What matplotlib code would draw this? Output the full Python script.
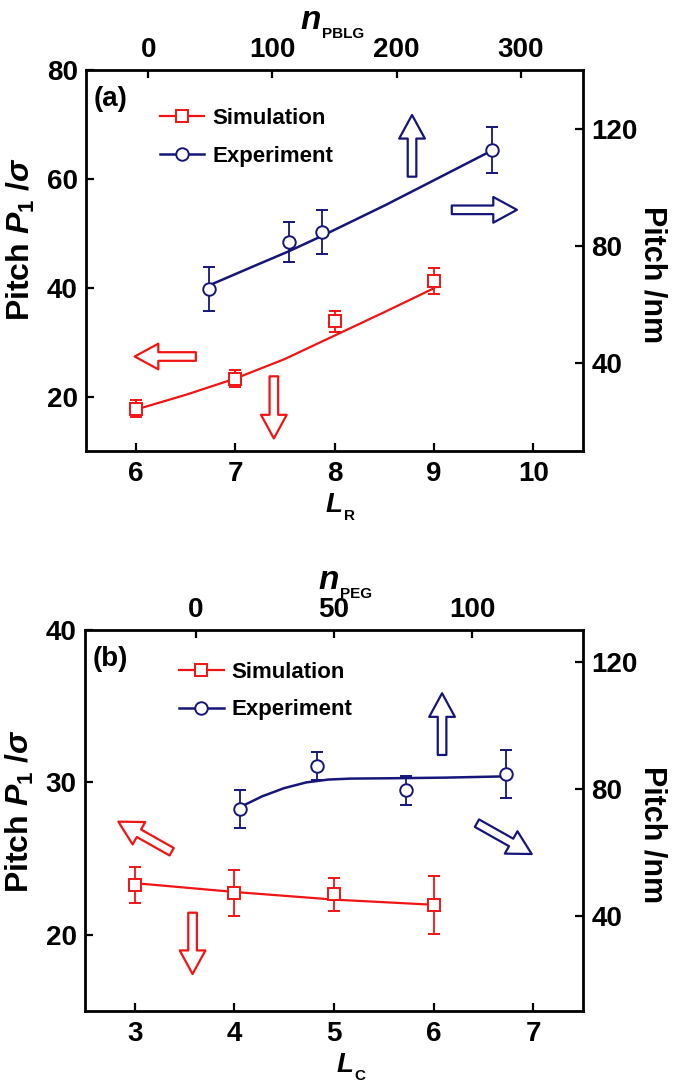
import matplotlib
matplotlib.use("Agg")
import matplotlib.pyplot as plt
from matplotlib.lines import Line2D

plt.rcParams['font.family'] = ['Liberation Sans', 'DejaVu Sans']
plt.rcParams['font.weight'] = 'bold'
plt.rcParams['mathtext.fontset'] = 'custom'
plt.rcParams['mathtext.rm'] = 'Liberation Sans:bold'
plt.rcParams['mathtext.bf'] = 'Liberation Sans:bold'
plt.rcParams['mathtext.it'] = 'Liberation Sans:italic:bold'

RED = '#f01414'
BLUE = '#16167a'

# ---------------- data: panel (a) ----------------
sim_a_x = [6, 7, 8, 9]
sim_a_y = [17.8, 23.3, 33.8, 41.3]
sim_a_err = [1.6, 1.5, 1.9, 2.4]
sim_a_fit_x = [6, 6.5, 7, 7.5, 8, 8.5, 9]
sim_a_fit_y = [17.6, 20.3, 23.3, 26.9, 31.2, 35.5, 39.9]
exp_a_n = [49, 113, 140, 277]
exp_a_nm = [65.3, 81.2, 84.7, 112.6]
exp_a_err = [7.6, 6.8, 7.5, 7.9]
exp_a_fit_n = [49, 88, 113, 140, 191, 226, 277]
exp_a_fit_nm = [66.5, 73.6, 78.1, 83.4, 93.9, 101.5, 112.6]
a_xticks = [6, 7, 8, 9, 10]
a_yticks = [20, 40, 60, 80]
a_topticks = [0, 100, 200, 300]
a_rightticks = [40, 80, 120]

# ---------------- data: panel (b) ----------------
sim_b_x = [3, 4, 5, 6]
sim_b_y = [23.28, 22.76, 22.65, 21.97]
sim_b_err = [1.2, 1.5, 1.1, 1.9]
sim_b_fit_x = [3, 4, 5, 6]
sim_b_fit_y = [23.39, 22.81, 22.31, 21.97]
exp_b_n = [16, 44, 76, 112]
exp_b_nm = [73.7, 87.2, 79.5, 84.6]
exp_b_err = [6.0, 4.4, 4.6, 7.6]
exp_b_fit_n = [16, 24, 32, 40, 48, 56, 70, 90, 112]
exp_b_fit_nm = [74.2, 77.6, 80.2, 82.0, 82.9, 83.2, 83.3, 83.5, 83.9]
b_xticks = [3, 4, 5, 6, 7]
b_yticks = [20, 30, 40]
b_topticks = [0, 50, 100]
b_rightticks = [40, 80, 120]

W, H = 675, 1083
fig = plt.figure(figsize=(W / 100, H / 100), dpi=100)

TICK_FS = 20
LAB_FS = 22


def style_axis(ax):
    ax.tick_params(direction='in', length=6, width=1.6, labelsize=TICK_FS, pad=6)
    for s in ax.spines.values():
        s.set_linewidth(2.0)


def arrow(ax, tail, tip, color):
    ax.annotate('', xy=tip, xytext=tail, xycoords='axes fraction',
                textcoords='axes fraction',
                arrowprops=dict(arrowstyle='simple,head_length=1.7,head_width=1.85,tail_width=0.62',
                                mutation_scale=10, fc='white', ec=color, lw=1.6,
                                shrinkA=0, shrinkB=0))


def sub_label(ax, x, y, main, sub, main_fs, sub_fs):
    t = ax.text(x, y, main, transform=ax.transAxes, fontsize=main_fs,
                fontstyle='italic', fontweight='bold', ha='right', va='baseline')
    ax.annotate(sub, xy=(1.0, 0.0), xycoords=t, xytext=(0.5, -1.5),
                textcoords='offset points', fontsize=sub_fs, fontweight='bold',
                ha='left', va='baseline')


def panel(rect, xl, yl, tl, rl, xt, yt, tt, rt,
          sx, sy, se, sfx, sfy, en, ey, ee, efn, efy,
          tag, leg_y, leg_x, top_main, top_sub, bot_main, bot_sub, top_x, bot_x,
          left_lab_y, arrows):
    ax = fig.add_axes(rect)
    ax2 = fig.add_axes(rect, frameon=False)
    ax2.patch.set_alpha(0)
    ax.set_xlim(*xl); ax.set_ylim(*yl)
    ax2.set_xlim(*tl); ax2.set_ylim(*rl)
    ax.set_xticks(xt); ax.set_yticks(yt)
    ax2.set_xticks(tt); ax2.set_yticks(rt)
    ax2.xaxis.tick_top(); ax2.yaxis.tick_right()
    style_axis(ax); style_axis(ax2)
    ax.tick_params(axis='x', pad=7)
    ax2.tick_params(axis='x', pad=5)

    ax.plot(sfx, sfy, color=RED, lw=1.6, zorder=2)
    ax.errorbar(sx, sy, yerr=se, fmt='s', ms=8, mfc='white', mec=RED, mew=1.4,
                ecolor=RED, elinewidth=1.3, capsize=4, capthick=1.3, zorder=3)
    ax2.plot(efn, efy, color=BLUE, lw=1.8, zorder=2)
    ax2.errorbar(en, ey, yerr=ee, fmt='o', ms=9, mfc='white', mec=BLUE, mew=1.4,
                 ecolor=BLUE, elinewidth=1.3, capsize=4, capthick=1.3, zorder=3)

    ax.text(0.016, 0.925, tag, transform=ax.transAxes, fontsize=20,
            fontweight='bold', ha='left', va='center')

    handles = [Line2D([], [], color=RED, lw=1.6, marker='s', ms=8, mfc='white',
                      mec=RED, mew=1.4),
               Line2D([], [], color=BLUE, lw=1.8, marker='o', ms=9, mfc='white',
                      mec=BLUE, mew=1.4)]
    ax2.legend(handles, ['Simulation', 'Experiment'], loc='upper left',
               bbox_to_anchor=(leg_x, leg_y), frameon=False, fontsize=16,
               handlelength=2.0, handletextpad=0.35, labelspacing=0.75,
               borderpad=0, borderaxespad=0)

    # axis labels
    ax.text(-0.13, left_lab_y, r'Pitch $P_{1}$ /$\sigma$', transform=ax.transAxes,
            rotation=90, fontsize=23, fontweight='bold', ha='center', va='center')
    ax.text(1.14, 0.462, 'Pitch /nm', transform=ax.transAxes, rotation=-90,
            fontsize=LAB_FS, fontweight='bold', ha='center', va='center')
    sub_label(ax, top_x, 1.108, top_main, top_sub, 24, 11)
    sub_label(ax, bot_x, -0.160, bot_main, bot_sub, 20, 11)

    for tail, tip, c in arrows:
        arrow(ax2, tail, tip, c)
    return ax, ax2


panel([86 / W, 1 - 451 / H, 497 / W, 381 / H], (5.5, 10.5), (10, 80), (-50, 350), (10, 140),
      a_xticks, a_yticks, a_topticks, a_rightticks,
      sim_a_x, sim_a_y, sim_a_err, sim_a_fit_x, sim_a_fit_y,
      exp_a_n, exp_a_nm, exp_a_err, exp_a_fit_n, exp_a_fit_nm,
      '(a)', 0.90, 0.149, 'n', 'PBLG', 'L', 'R', 0.473, 0.517, 0.557,
      [((0.221, 0.248), (0.098, 0.248), RED),
       ((0.378, 0.196), (0.378, 0.033), RED),
       ((0.656, 0.720), (0.656, 0.882), BLUE),
       ((0.736, 0.633), (0.867, 0.633), BLUE)])

panel([85 / W, 1 - 1011 / H, 498 / W, 381 / H], (2.5, 7.5), (15, 40), (-40, 140), (10, 130),
      b_xticks, b_yticks, b_topticks, b_rightticks,
      sim_b_x, sim_b_y, sim_b_err, sim_b_fit_x, sim_b_fit_y,
      exp_b_n, exp_b_nm, exp_b_err, exp_b_fit_n, exp_b_fit_nm,
      '(b)', 0.917, 0.189, 'n', 'PEG', 'L', 'C', 0.51, 0.54, 0.525,
      [((0.717, 0.672), (0.717, 0.834), BLUE),
       ((0.787, 0.493), (0.897, 0.412), BLUE),
       ((0.174, 0.418), (0.067, 0.497), RED),
       ((0.216, 0.258), (0.216, 0.097), RED)])

fig.savefig('out.png', dpi=100)
